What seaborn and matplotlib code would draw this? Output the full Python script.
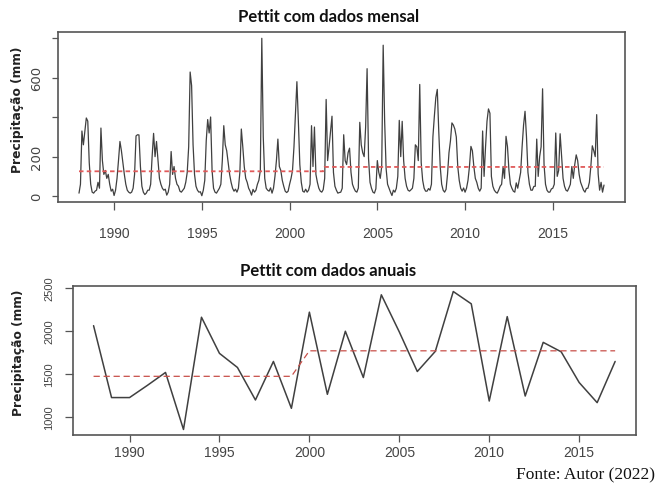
import numpy as np
import pandas as pd
import matplotlib
matplotlib.use("Agg")
import matplotlib.pyplot as plt
import seaborn as sns

sns.set_theme(style="white")
plt.rcParams['font.family'] = ['DejaVu Sans']

# ---------------- data ----------------
years = list(range(1988, 2018))
annual_mm = [2063, 1227, 1227, 1370, 1519, 856, 2161, 1741, 1577, 1199,
             1647, 1102, 2220, 1265, 1998, 1460, 2422, 1990, 1530, 1764,
             2460, 2317, 1187, 2168, 1245, 1869, 1759, 1402, 1168, 1647]

# monthly precipitation Jan..Dec, 1988..2017
monthly_mm = [
    15, 60, 330, 260, 330, 396, 380, 170, 60, 20, 15, 25,     # 1988
    30, 70, 40, 345, 180, 110, 130, 90, 110, 60, 25, 35,      # 1989
    3, 30, 90, 180, 277, 230, 170, 110, 60, 30, 20, 15,       # 1990
    20, 40, 110, 305, 311, 310, 150, 50, 20, 8, 15, 30,       # 1991
    30, 60, 200, 318, 200, 277, 180, 90, 60, 40, 30, 35,      # 1992
    5, 20, 60, 226, 110, 150, 90, 60, 50, 25, 20, 30,         # 1993
    40, 70, 120, 250, 629, 560, 260, 110, 50, 30, 20, 22,     # 1994
    2, 30, 80, 280, 388, 320, 401, 130, 40, 20, 15, 27,       # 1995
    40, 60, 180, 357, 260, 230, 170, 110, 70, 40, 25, 35,     # 1996
    20, 40, 120, 340, 250, 150, 90, 70, 40, 25, 5, 34,        # 1997
    20, 30, 60, 80, 130, 800, 300, 90, 40, 30, 25, 42,        # 1998
    15, 40, 100, 180, 289, 150, 130, 80, 50, 25, 18, 25,      # 1999
    60, 90, 130, 250, 420, 580, 380, 160, 70, 25, 20, 35,     # 2000
    20, 30, 60, 357, 150, 350, 110, 70, 40, 25, 20, 33,       # 2001
    90, 490, 180, 250, 330, 405, 120, 50, 30, 15, 18, 20,     # 2002
    40, 311, 180, 160, 220, 243, 120, 60, 40, 25, 20, 41,     # 2003
    374, 260, 220, 200, 350, 646, 190, 70, 40, 20, 15, 37,    # 2004
    180, 120, 90, 150, 765, 380, 140, 60, 40, 20, 3, 30,      # 2005
    20, 40, 100, 384, 200, 379, 180, 90, 50, 30, 25, 32,      # 2006
    40, 90, 260, 250, 180, 566, 170, 80, 40, 25, 25, 38,      # 2007
    30, 60, 300, 405, 500, 541, 330, 150, 60, 30, 20, 34,     # 2008
    110, 220, 280, 371, 360, 340, 300, 150, 80, 40, 25, 41,   # 2009
    20, 40, 80, 150, 252, 230, 150, 90, 70, 40, 25, 40,       # 2010
    330, 100, 250, 380, 442, 420, 100, 50, 30, 20, 15, 31,    # 2011
    50, 60, 150, 90, 303, 250, 130, 60, 40, 25, 20, 67,       # 2012
    40, 80, 120, 250, 360, 430, 300, 120, 60, 30, 30, 49,     # 2013
    50, 289, 100, 200, 250, 544, 160, 60, 30, 20, 20, 36,     # 2014
    40, 60, 320, 100, 130, 316, 200, 90, 50, 30, 25, 41,      # 2015
    60, 150, 90, 160, 209, 180, 110, 70, 50, 30, 20, 39,      # 2016
    40, 70, 150, 255, 230, 200, 413, 113, 30, 70, 20, 56,     # 2017
]

monthly_change_index = 167      # Dec 2001 (last month of first segment)
annual_change_year = 1999       # last year of first segment

x_ticks = [1990, 1995, 2000, 2005, 2010, 2015]
monthly_y_ticks = [0, 200, 400, 600, 800]
monthly_y_labels = ["0", "200", "", "600", ""]
annual_y_ticks = [1000, 1500, 2000, 2500]
annual_y_labels = ["1000", "1500", "2000", "2500"]

title_monthly = "Pettit com dados mensal"
title_annual = "Pettit com dados anuais"
y_label = "Precipitação (mm)"
source_text = "Fonte: Autor (2022)"

# ---------------- frames ----------------
n = len(monthly_mm)
dfm = pd.DataFrame({
    "time": years[0] + np.arange(n) / 12.0,
    "mm": monthly_mm,
})
idx = np.arange(n)
m1 = dfm["mm"][idx <= monthly_change_index].mean()
m2 = dfm["mm"][idx > monthly_change_index].mean()
dfm["mean"] = np.where(idx <= monthly_change_index, m1, m2)

dfa = pd.DataFrame({"year": years, "mm": annual_mm})
yrs = np.array(years)
a1 = dfa["mm"][yrs <= annual_change_year].mean()
a2 = dfa["mm"][yrs > annual_change_year].mean()
dfa["mean"] = np.where(yrs <= annual_change_year, a1, a2)

# ---------------- figure ----------------
W, H = 660, 485
fig = plt.figure(figsize=(W / 100, H / 100), dpi=100)
fig.patch.set_facecolor("white")

ax1 = fig.add_axes([58 / W, 1 - 203 / H, (625 - 58) / W, (203 - 33) / H])
ax2 = fig.add_axes([72.7 / W, 1 - 436 / H, (636 - 72.7) / W, (436 - 287) / H])

line_col = "#404040"
red_col = "#e05a5a"
frame_col = "#555555"
tick_txt = "#444444"
narrow = ["Liberation Sans Narrow", "Liberation Sans", "DejaVu Sans"]

sns.lineplot(data=dfm, x="time", y="mm", ax=ax1, color=line_col,
             linewidth=0.9, errorbar=None)
sns.lineplot(data=dfm, x="time", y="mean", ax=ax1, color=red_col,
             linewidth=1.3, linestyle=(0, (2.5, 1.8)), errorbar=None)

sns.lineplot(data=dfa, x="year", y="mm", ax=ax2, color=line_col,
             linewidth=1.1, errorbar=None)
sns.lineplot(data=dfa, x="year", y="mean", ax=ax2, color="#c8504a",
             linewidth=0.9, linestyle=(0, (5, 3)), errorbar=None)

for ax in (ax1, ax2):
    ax.margins(x=0.04, y=0.04)
    ax.set_xlabel("")
    ax.set_ylabel("")
    ax.set_facecolor("white")
    for s in ax.spines.values():
        s.set_visible(True)
        s.set_color(frame_col)
        s.set_linewidth(1.2)
    ax.set_xticks(x_ticks)
    ax.set_xticklabels([str(t) for t in x_ticks], family=narrow,
                       fontsize=10, color=tick_txt)
    ax.grid(False)

# monthly axis ticks
ax1.set_yticks(monthly_y_ticks)
ax1.set_yticklabels(monthly_y_labels, family=["DejaVu Sans"], fontsize=9.5,
                    color=tick_txt, rotation=90, va="center")
ax1.tick_params(axis="x", bottom=True, direction="out", length=6, width=0.9,
                color=frame_col, pad=11)
ax1.tick_params(axis="y", left=True, direction="out", length=4, width=0.9,
                color=frame_col, pad=7)

# annual axis ticks
ax2.set_yticks(annual_y_ticks)
ax2.set_yticklabels(annual_y_labels, family=narrow, fontsize=8,
                    color=tick_txt, rotation=90, va="center")
ax2.tick_params(axis="x", bottom=True, direction="out", length=5, width=0.9,
                color=frame_col, pad=2)
ax2.tick_params(axis="y", left=True, direction="out", length=5.5, width=0.9,
                color=frame_col, pad=8)

# titles and labels
title_font = ["Lato", "DejaVu Sans"]
fig.text(329 / W, 1 - 17 / H, title_monthly, ha="center", va="center",
         fontsize=12, fontweight="bold", family=title_font, color="#111111")
fig.text(328 / W, 1 - 271 / H, title_annual, ha="center", va="center",
         fontsize=12, fontweight="bold", family=title_font, color="#111111")
fig.text(18 / W, 1 - 110 / H, y_label, ha="center", va="center",
         rotation=90, fontsize=8.8, fontweight="bold", color="#222222")
fig.text(19 / W, 1 - 353 / H, y_label, ha="center", va="center",
         rotation=90, fontsize=8.8, fontweight="bold", color="#222222")
fig.text(655 / W, 1 - 475 / H, source_text, ha="right", va="center",
         fontsize=12.5, family=["Liberation Serif", "DejaVu Serif"],
         color="#111111")

fig.savefig("out.png", dpi=100, facecolor="white")
